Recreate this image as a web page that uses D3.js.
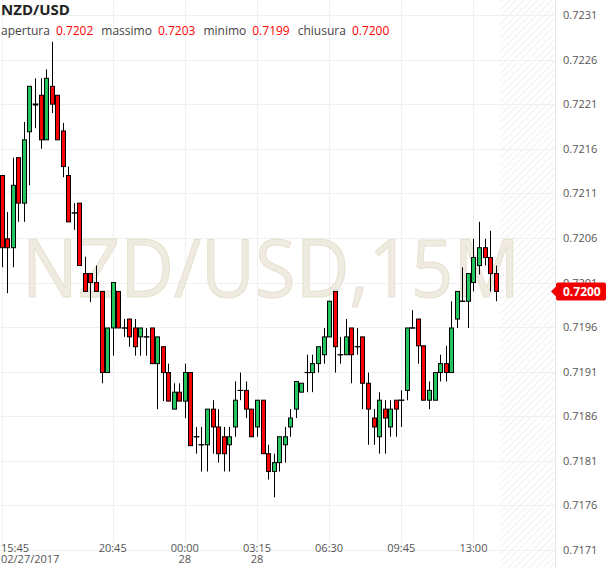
<!DOCTYPE html>
<html>
<head>
<meta charset="utf-8">
<script src="https://cdn.jsdelivr.net/npm/d3@7"></script>
<style>
  body { margin: 0; background: #fff; }
  svg { font-family: 'Open Sans', Arial, sans-serif; }
</style>
</head>
<body>
<svg width="610" height="568"></svg>
<script>
var opens = [.72130,.72059,.72049,.72150,.72099,.72179,.72210,.72220,.72170,.72230,
  .72220,.72180,.72130,.72088,.72099,.72020,.72020,.72010,.72000,.71909,
  .71959,.72000,.71959,.71969,.71959,.71949,.71949,.71959,.71919,.71938,
  .71909,.71868,.71887,.71877,.71909,.71837,.71828,.71828,.71868,.71848,
  .71837,.71828,.71848,.71889,.71889,.71868,.71848,.71878,.71818,.71798,
  .71808,.71828,.71848,.71868,.71887,.71909,.71909,.71919,.71929,.71949,
  .72000,.71929,.71929,.71959,.71938,.71949,.71897,.71858,.71837,.71868,
  .71848,.71878,.71878,.71889,.71959,.71969,.71939,.71878,.71878,.71909,
  .71919,.71909,.71969,.71989,.71989,.72010,.72029,.72049,.72038,.72020]
var highs = [.72130,.72089,.72150,.72150,.72190,.72230,.72239,.72239,.72249,.72280,
  .72220,.72189,.72140,.72099,.72099,.72039,.72020,.72029,.72000,.71959,
  .72010,.72000,.71969,.71969,.71969,.71959,.71959,.71959,.71949,.71938,
  .71919,.71897,.71897,.71919,.71909,.71848,.71848,.71868,.71878,.71868,
  .71848,.71848,.71899,.71909,.71899,.71868,.71878,.71878,.71828,.71818,
  .71837,.71848,.71868,.71899,.71897,.71929,.71929,.71938,.71959,.71989,
  .72000,.71949,.71969,.71959,.71959,.71949,.71909,.71868,.71887,.71878,
  .71878,.71878,.71889,.71959,.71979,.71969,.71939,.71899,.71909,.71929,
  .71939,.71989,.72000,.72027,.72020,.72059,.72078,.72059,.72068,.72029]
var lows = [.72027,.71998,.72027,.72078,.72078,.72119,.72183,.72160,.72170,.72200,
  .72170,.72128,.72078,.72069,.72029,.72000,.71988,.72000,.71897,.71909,
  .71928,.71959,.71949,.71938,.71928,.71928,.71928,.71919,.71868,.71877,
  .71877,.71868,.71877,.71858,.71827,.71818,.71798,.71798,.71818,.71808,
  .71798,.71798,.71837,.71878,.71858,.71837,.71837,.71818,.71789,.71769,
  .71798,.71808,.71837,.71858,.71887,.71887,.71887,.71909,.71919,.71949,
  .71909,.71919,.71929,.71897,.71929,.71868,.71828,.71828,.71818,.71818,
  .71837,.71837,.71848,.71878,.71959,.71919,.71878,.71868,.71878,.71899,
  .71899,.71909,.71959,.71989,.71959,.72000,.72019,.72029,.72000,.71989]
var closes = [.72049,.72049,.72119,.72099,.72170,.72230,.72209,.72170,.72239,.72210,
  .72170,.72140,.72078,.72088,.72029,.72000,.72010,.72000,.71909,.71959,
  .72010,.71959,.71959,.71949,.71938,.71959,.71949,.71919,.71949,.71909,
  .71877,.71887,.71877,.71909,.71827,.71837,.71828,.71868,.71848,.71818,
  .71818,.71837,.71878,.71889,.71868,.71837,.71878,.71818,.71798,.71808,
  .71837,.71837,.71858,.71899,.71897,.71909,.71919,.71938,.71949,.71989,
  .71938,.71929,.71949,.71929,.71938,.71897,.71868,.71848,.71878,.71858,
  .71868,.71868,.71878,.71959,.71959,.71939,.71878,.71889,.71909,.71919,
  .71909,.71959,.72000,.71989,.72020,.72038,.72049,.72038,.72020,.72000]

var priceTicks = [0.7171, 0.7176, 0.7181, 0.7186, 0.7191, 0.7196, 0.7201, 0.7206, 0.7211, 0.7216, 0.7221, 0.7226, 0.7231]
var timeTickIndex = [0, 20, 33, 46, 59, 72, 85]
var timeTickLabels = ['15:45', '20:45', '00:00', '03:15', '06:30', '09:45', '13:00']
var timeTickSub = ['02/27/2017', '', '28', '28', '', '', '']

var svg = d3.select('svg')
var plotW = 555
var x = d3.scaleLinear().domain([-0.3, 99.7]).range([0, plotW])
var y = d3.scaleLinear().domain([0.7171, 0.7231]).range([550, 15])

// hatched future zone
var defs = svg.append('defs')
var pat = defs.append('pattern').attr('id', 'hatch').attr('width', 5).attr('height', 5)
  .attr('patternUnits', 'userSpaceOnUse').attr('patternTransform', 'rotate(45)')
pat.append('line').attr('x1', 0).attr('y1', 0).attr('x2', 0).attr('y2', 5)
  .attr('stroke', '#ececec').attr('stroke-width', 1.5)
svg.append('rect').attr('x', 500).attr('y', 0).attr('width', plotW - 500).attr('height', 568)
  .attr('fill', 'url(#hatch)')

// grid
svg.append('g').selectAll('line').data(priceTicks).enter().append('line')
  .attr('x1', 0).attr('x2', plotW)
  .attr('y1', d => Math.round(y(d)) + 0.5).attr('y2', d => Math.round(y(d)) + 0.5)
  .attr('stroke', '#f0f0f0')
svg.append('g').selectAll('line').data(timeTickIndex).enter().append('line')
  .attr('x1', d => Math.round(x(d)) + 0.5).attr('x2', d => Math.round(x(d)) + 0.5)
  .attr('y1', 0).attr('y2', 543)
  .attr('stroke', '#f0f0f0')

// watermark
svg.append('text').attr('x', 22).attr('y', 297)
  .attr('font-size', 80).attr('textLength', 498).attr('lengthAdjust', 'spacingAndGlyphs')
  .attr('fill', '#efebe0').attr('stroke', '#e6e0d0').attr('stroke-width', 1)
  .text('NZD/USD,15M')

// candles
var idx = d3.range(opens.length)
var g = svg.append('g')
g.selectAll('line.wick').data(idx).enter().append('line')
  .attr('x1', i => Math.round(x(i)) + 0.5).attr('x2', i => Math.round(x(i)) + 0.5)
  .attr('y1', i => y(highs[i])).attr('y2', i => y(lows[i]))
  .attr('stroke', '#000')
g.selectAll('rect').data(idx).enter().append('rect')
  .attr('x', i => Math.round(x(i)) - 2 + 0.5)
  .attr('y', i => y(Math.max(opens[i], closes[i])))
  .attr('width', 4)
  .attr('height', i => Math.max(0.01, Math.abs(y(opens[i]) - y(closes[i]))))
  .attr('fill', i => closes[i] >= opens[i] ? '#22c55e' : '#ff0000')
  .attr('stroke', '#000').attr('stroke-width', 1)
g.selectAll('line.doji').data(idx.filter(i => Math.abs(opens[i] - closes[i]) < 0.00002)).enter().append('line')
  .attr('x1', i => Math.round(x(i)) - 2.5).attr('x2', i => Math.round(x(i)) + 3.5)
  .attr('y1', i => y(opens[i])).attr('y2', i => y(opens[i]))
  .attr('stroke', '#000')

// right axis
svg.append('line').attr('x1', plotW + 0.5).attr('x2', plotW + 0.5).attr('y1', 0).attr('y2', 568).attr('stroke', '#e8e8e8')
svg.append('g').selectAll('text').data(priceTicks).enter().append('text')
  .attr('x', 563).attr('y', d => y(d) + 4)
  .attr('font-size', 11).attr('fill', '#555')
  .text(d => d.toFixed(4))

// last price marker
var last = closes[closes.length - 1]
svg.append('rect').attr('x', 556).attr('y', y(last) - 9).attr('width', 50).attr('height', 18)
  .attr('rx', 2).attr('fill', '#f00000')
svg.append('path').attr('d', 'M' + 551 + ',' + y(last) + 'l5,-5v10z').attr('fill', '#f00000')
svg.append('text').attr('x', 563).attr('y', y(last) + 5).attr('font-size', 12).attr('font-weight', 'bold')
  .attr('fill', '#fff').text(last.toFixed(4))

// time axis
var tg = svg.append('g').selectAll('g').data(timeTickIndex).enter().append('g')
tg.append('text').attr('x', (d, i) => i === 0 ? 1 : x(d)).attr('y', 552)
  .attr('text-anchor', (d, i) => i === 0 ? 'start' : 'middle')
  .attr('font-size', 11).attr('fill', '#555').text((d, i) => timeTickLabels[i])
tg.append('text').attr('x', (d, i) => i === 0 ? 1 : x(d)).attr('y', 563)
  .attr('text-anchor', (d, i) => i === 0 ? 'start' : 'middle')
  .attr('font-size', 11).attr('fill', '#555').text((d, i) => timeTickSub[i])

// title and OHLC legend
svg.append('text').attr('x', 1).attr('y', 15).attr('font-size', 15).attr('font-weight', 'bold')
  .attr('fill', '#222').text('NZD/USD')
var legend = [['apertura', '0.7202'], ['massimo', '0.7203'], ['minimo', '0.7199'], ['chiusura', '0.7200']]
var lt = svg.append('text').attr('x', 1).attr('y', 35).attr('font-size', 12)
legend.forEach(function(p, i) {
  lt.append('tspan').attr('fill', '#444').attr('dx', i === 0 ? 0 : 8).text(p[0])
  lt.append('tspan').attr('fill', '#f00').attr('dx', 6).text(p[1])
})
</script>
</body>
</html>
